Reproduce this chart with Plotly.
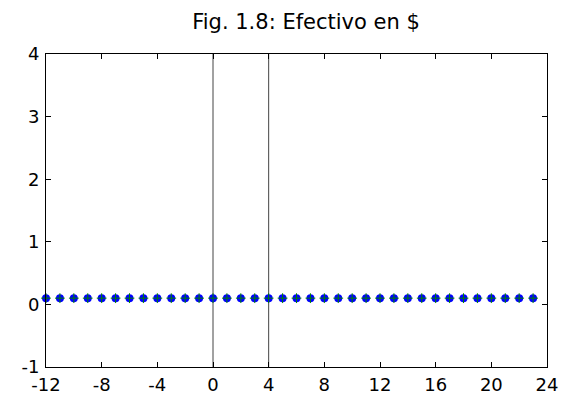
import plotly.graph_objects as go

x_vals = list(range(-12, 24))
y_vals = [0.1] * len(x_vals)
vline_x = [0, 4]
x_ticks = [-12, -8, -4, 0, 4, 8, 12, 16, 20, 24]
y_ticks = [-1, 0, 1, 2, 3, 4]
title_text = "Fig. 1.8: Efectivo en $"

fig = go.Figure()
for vx in vline_x:
    fig.add_trace(go.Scatter(x=[vx, vx], y=[-1, 4], mode="lines",
                             line=dict(color="#444444", width=1), showlegend=False))
fig.add_trace(go.Scatter(x=x_vals, y=y_vals, mode="markers",
                         marker=dict(symbol="circle", size=8, color="#0000FF"),
                         cliponaxis=False, showlegend=False))
fig.add_trace(go.Scatter(x=x_vals, y=y_vals, mode="markers",
                         marker=dict(symbol="cross-thin", size=7,
                                     line=dict(color="#008000", width=1)),
                         cliponaxis=False, showlegend=False))

font_name = "DejaVu Sans"
axis_common = dict(showgrid=False, zeroline=False, showline=True, linecolor="black",
                   linewidth=1, mirror="ticks", ticks="inside", ticklen=5,
                   automargin=False,
                   tickcolor="black", tickfont=dict(family=font_name, size=18, color="black"))
fig.update_layout(
    width=564, height=397,
    margin=dict(l=46, r=17, t=54, b=30),
    paper_bgcolor="white", plot_bgcolor="white",
    title=dict(text=title_text, x=306/564, xanchor="center", y=1-22/397, yanchor="middle",
               font=dict(family=font_name, size=21, color="black")),
    xaxis=dict(range=[-12, 24], tickvals=x_ticks, ticktext=[str(v) for v in x_ticks],
               ticklabelstandoff=1, **axis_common),
    yaxis=dict(range=[-1, 4], tickvals=y_ticks, ticktext=[str(v) for v in y_ticks],
               ticklabelstandoff=2, **axis_common),
)
fig.write_html("out.html")
